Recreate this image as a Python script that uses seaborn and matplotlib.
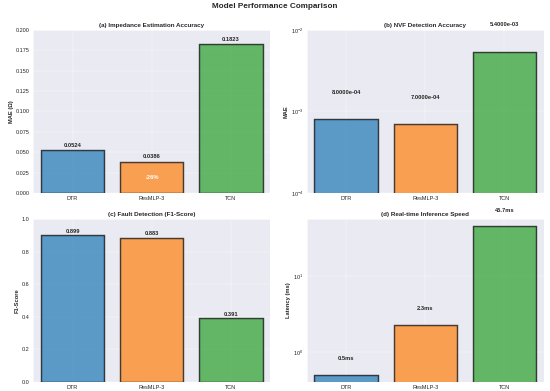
import numpy as np
import pandas as pd
import seaborn as sns
import matplotlib
matplotlib.use("Agg")
import matplotlib.pyplot as plt

models = ["DTR", "ResMLP-3", "TCN"]
impedance_mae = [0.0524, 0.0386, 0.1823]
nvf_mae = [8.0e-4, 7.0e-4, 5.4e-3]
f1_scores = [0.899, 0.883, 0.391]
latency_ms = [0.5, 2.3, 45.7]
colors = ["#1f77b4", "#ff7f0e", "#2ca02c"]

sns.set_theme(style="darkgrid")
plt.rcParams['font.family'] = ['Liberation Sans', 'DejaVu Sans']

fig, axes = plt.subplots(2, 2, figsize=(16, 11.375), dpi=34.375)
fig.suptitle("Model Performance Comparison", fontsize=17, fontweight="bold", y=0.993)
fig.subplots_adjust(left=33 / 550, right=544 / 550, top=1 - 30 / 391,
                    bottom=1 - 382 / 391, wspace=0.152, hspace=0.16)


def draw(ax, values):
    df = pd.DataFrame({"model": models, "value": values})
    sns.barplot(data=df, x="model", y="value", hue="model", palette=colors,
                saturation=1, legend=False, ax=ax, alpha=0.7, edgecolor="black",
                linewidth=3, width=0.8)
    ax.set_xlabel("")
    ax.tick_params(labelsize=11.5, pad=1)
    ax.grid(True, alpha=0.7)
    ax.set_axisbelow(True)


# (a)
ax = axes[0, 0]
draw(ax, impedance_mae)
ax.set_title("(a) Impedance Estimation Accuracy", fontsize=13, fontweight="bold")
ax.set_ylabel("MAE (Ω)", fontsize=12, fontweight="bold")
ax.set_ylim(0, 0.2)
for i, v in enumerate(impedance_mae):
    ax.text(i, v + 0.003, f"{v:.4f}", ha="center", va="bottom", fontsize=12, fontweight="bold")
imp = (impedance_mae[0] - impedance_mae[1]) / impedance_mae[0] * 100
ax.text(1, impedance_mae[1] / 2, f"↓{imp:.0f}%", ha="center", va="center",
        fontsize=12, fontweight="bold", color="white")

# (b)
ax = axes[0, 1]
draw(ax, nvf_mae)
ax.set_yscale("log")
ax.set_ylim(1e-4, 1e-2)
ax.set_title("(b) NVF Detection Accuracy", fontsize=13, fontweight="bold")
ax.set_ylabel("MAE", fontsize=12, fontweight="bold")
for i, v in enumerate(nvf_mae):
    ax.text(i, v * 2, f"{v:.4e}", ha="center", va="bottom", fontsize=12, fontweight="bold")

# (c)
ax = axes[1, 0]
draw(ax, f1_scores)
ax.set_ylim(0, 1.0)
ax.set_title("(c) Fault Detection (F1-Score)", fontsize=13, fontweight="bold")
ax.set_ylabel("F1-Score", fontsize=12, fontweight="bold")
for i, v in enumerate(f1_scores):
    ax.text(i, v + 0.01, f"{v:.3f}", ha="center", va="bottom", fontsize=12, fontweight="bold")

# (d)
ax = axes[1, 1]
draw(ax, latency_ms)
ax.set_yscale("log")
ax.set_title("(d) Real-time Inference Speed", fontsize=13, fontweight="bold")
ax.set_ylabel("Latency (ms)", fontsize=12, fontweight="bold")
for i, v in enumerate(latency_ms):
    ax.text(i, v * 1.5, f"{v:.1f}ms", ha="center", va="bottom", fontsize=12, fontweight="bold")

fig.savefig("out.png", dpi=34.375)
